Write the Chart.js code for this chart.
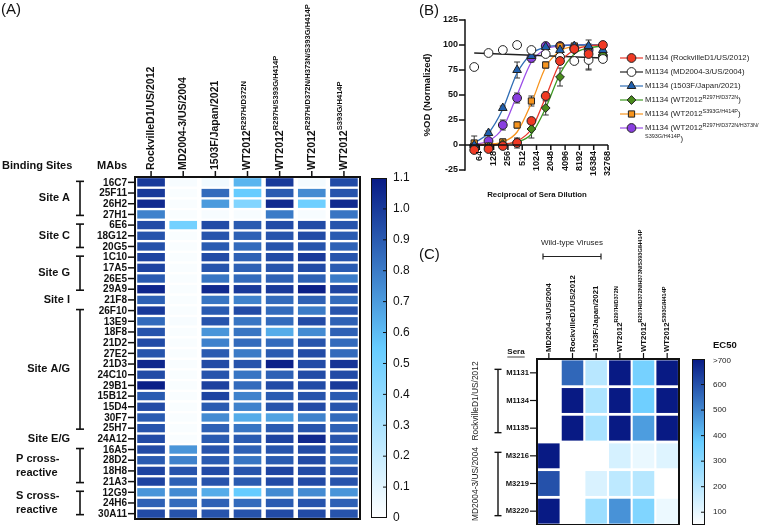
<!DOCTYPE html>
<html>
<head>
<meta charset="utf-8">
<script src="https://cdn.jsdelivr.net/npm/chart.js@4.4.0/dist/chart.umd.min.js"></script>
<style>
  html, body { margin: 0; padding: 0; background: #fff; }
  #wrap { position: relative; width: 760px; height: 525px; overflow: hidden; }
  #wrap canvas { position: absolute; left: 0; top: 0; }
</style>
</head>
<body>
<div id="wrap">
  <canvas id="chartA" width="760" height="525"></canvas>
  <canvas id="chartB" width="760" height="525"></canvas>
  <canvas id="chartC" width="760" height="525"></canvas>
</div>
<script>
// ---------- panel A data ----------
const strainsA = ['RockvilleD1/US/2012', 'MD2004-3/US/2004', '1503F/Japan/2021', 'WT2012^R297H/D372N',
  'WT2012^R297H/S393G/H414P', 'WT2012^R297H/D372N/H373N/S393G/H414P', 'WT2012^S393G/H414P'];
const mabs = ['16C7', '25F11', '26H2', '27H1', '6E6', '18G12', '20G5', '1C10', '17A5', '26E5', '29A9', '21F8',
  '26F10', '13E9', '18F8', '21D2', '27E2', '21D3', '24C10', '29B1', '15B12', '15D4', '30F7', '25H7', '24A12',
  '16A5', '28D2', '18H8', '21A3', '12G9', '24H6', '30A11'];
const bindingValues = [
  [1.00, 0.03, 0.05, 0.62, 1.00, 0.04, 0.95],
  [1.00, 0.02, 0.85, 0.55, 0.90, 0.75, 0.92],
  [1.05, 0.02, 0.70, 0.45, 1.05, 0.52, 1.05],
  [0.78, 0.02, 0.03, 0.03, 0.80, 0.03, 0.82],
  [0.95, 0.50, 0.95, 0.90, 0.95, 0.95, 0.92],
  [0.92, 0.02, 0.92, 0.88, 0.92, 0.95, 0.90],
  [0.93, 0.02, 0.90, 0.85, 0.92, 0.92, 0.88],
  [0.97, 0.02, 0.95, 0.88, 0.95, 1.00, 0.92],
  [0.97, 0.02, 0.92, 0.88, 0.92, 0.95, 0.90],
  [0.90, 0.02, 0.82, 0.85, 0.88, 0.88, 0.80],
  [1.06, 0.02, 1.05, 1.00, 1.00, 1.08, 0.97],
  [0.88, 0.02, 0.82, 0.78, 0.85, 0.88, 0.85],
  [1.00, 0.02, 0.90, 0.95, 0.85, 0.80, 0.92],
  [0.85, 0.03, 0.92, 0.82, 0.85, 0.95, 0.88],
  [0.92, 0.02, 0.72, 0.82, 0.65, 0.75, 0.88],
  [0.95, 0.02, 0.78, 0.85, 0.85, 0.92, 0.85],
  [0.92, 0.02, 0.90, 0.80, 0.90, 0.95, 0.85],
  [1.06, 0.02, 0.95, 0.92, 1.08, 0.95, 1.02],
  [0.95, 0.02, 0.92, 0.82, 0.88, 0.95, 0.95],
  [1.08, 0.02, 0.98, 0.85, 0.95, 0.95, 1.00],
  [0.90, 0.02, 0.97, 0.78, 0.90, 0.92, 0.90],
  [0.95, 0.02, 0.90, 0.78, 0.92, 0.95, 0.92],
  [0.90, 0.02, 0.75, 0.65, 0.68, 0.78, 0.85],
  [0.92, 0.02, 0.88, 0.82, 0.90, 0.92, 0.88],
  [0.95, 0.02, 0.90, 0.90, 0.97, 1.05, 0.92],
  [0.95, 0.72, 0.92, 0.88, 0.92, 0.95, 0.90],
  [0.90, 0.78, 0.90, 0.82, 0.90, 0.95, 0.85],
  [0.97, 0.92, 0.95, 0.92, 0.97, 0.95, 0.92],
  [0.97, 0.88, 0.92, 0.90, 0.95, 0.95, 0.92],
  [0.72, 0.75, 0.65, 0.55, 0.75, 0.75, 0.72],
  [0.88, 0.85, 0.88, 0.85, 0.90, 0.92, 0.88],
  [0.95, 0.92, 0.92, 0.92, 0.95, 0.95, 0.92]
];
const siteGroups = [
  { label: ['Site A'], from: 0, to: 3, bar: true },
  { label: ['Site C'], from: 4, to: 6, bar: true },
  { label: ['Site G'], from: 7, to: 10, bar: true },
  { label: ['Site I'], from: 11, to: 11, bar: false },
  { label: ['Site A/G'], from: 12, to: 23, bar: true },
  { label: ['Site E/G'], from: 24, to: 24, bar: false },
  { label: ['P cross-', 'reactive'], from: 25, to: 28, bar: true },
  { label: ['S cross-', 'reactive'], from: 29, to: 31, bar: true }
];
const scaleTicksA = [0, 0.1, 0.2, 0.3, 0.4, 0.5, 0.6, 0.7, 0.8, 0.9, 1.0, 1.1];

// ---------- panel B data ----------
const dilutions = [50, 100, 200, 400, 800, 1600, 3200, 6400, 12800, 25600];
const xTicksB = [64, 128, 256, 512, 1024, 2048, 4096, 8192, 16384, 32768];
const yTicksB = [-25, 0, 25, 50, 75, 100, 125];
const legendB = [
  ['M1134 (RockvilleD1/US/2012)'],
  ['M1134 (MD2004-3/US/2004)'],
  ['M1134 (1503F/Japan/2021)'],
  ['M1134 (WT2012^R297H/D372N^)'],
  ['M1134 (WT2012^S393G/H414P^)'],
  ['M1134 (WT2012^R297H/D372N/H373N/^', '^S393G/H414P^)']
];
const odRockville = [-5, -4, -1, 2, 24, 49, 84, 96, 91, 100];
const odMD2004 = [78, 92, 95, 100, 95, 91, 88, 84, 85, 86];
const odJapan = [0, 12, 37, 75, 89, 98, 95, 99, 99, 95];
const odWtA = [-1, -2, 1, 3, 16, 37, 68, 95, 97, 90];
const odWtS = [2, -1, 3, 20, 44, 80, 99, 99, 86, null];
const odWtQ = [-1, 4, 20, 47, 87, 99, 99, 97, 95, 89];
const errRockville = [2, 2, 2, 5, 3, 4, 3, 2, 4, 1];
const errMD2004 = [0, 0, 0, 0, 0, 0, 3, 0, 10, 0];
const errJapan = [0, 2, 2, 8, 3, 2, 3, 2, 6, 3];
const errWtA = [0, 0, 2, 3, 9, 7, 9, 2, 4, 2];
const errWtS = [7, 2, 3, 3, 5, 3, 2, 2, 10, 0];
const errWtQ = [0, 2, 5, 5, 4, 2, 2, 3, 3, 3];
// fitted curves at each dilution
const fitRockville = [0, 0, 1, 4, 16, 48, 82, 95, 99, 100];
const fitMD2004 = [92, 87];
const fitJapan = [2, 12, 36, 72, 91, 98, 99.5, 100, 100, 100];
const fitWtA = [0, 0, 1, 3, 11, 37, 71, 91, 97, 99];
const fitWtS = [0, 1, 3, 13, 42, 78, 94, 98.5, 99.5, 100];
const fitWtQ = [0.5, 4, 17, 50, 83, 96, 99, 100, 100, 100];

// ---------- panel C data ----------
const strainsC = ['MD2004-3/US/2004', 'RockvilleD1/US/2012', '1503F/Japan/2021', 'WT2012^R297H/D372N',
  'WT2012^R297H/D372N/H373N/S393G/H414P', 'WT2012^S393G/H414P'];
const sera = ['M1131', 'M1134', 'M1135', 'M3216', 'M3219', 'M3220'];
const ec50Values = [
  [50, 560, 200, 700, 340, 700],
  [50, 700, 225, 700, 355, 700],
  [50, 700, 235, 700, 460, 700],
  [700, 50, 50, 140, 95, 120],
  [600, 50, 130, 190, 205, 50],
  [700, 50, 260, 480, 320, 90]
];
const seraGroups = [
  { label: 'RockvilleD1/US/2012', from: 0, to: 2 },
  { label: 'MD2004-3/US/2004', from: 3, to: 5 }
];
const ec50Ticks = [100, 200, 300, 400, 500, 600, 700];

// ---------- helpers ----------
const FAM = '"Liberation Sans", Arial, Helvetica, sans-serif';
const font = (w, s) => `${w} ${s}px ${FAM}`;
const INK = '#111';

const stops = [[0, [255, 255, 255]], [0.5, [102, 204, 255]], [1, [8, 26, 132]]];
function heatColor(t) {
  t = Math.max(0, Math.min(1, t));
  let i = t <= 0.5 ? 0 : 1;
  const a = stops[i], b = stops[i + 1];
  const f = (t - a[0]) / (b[0] - a[0]);
  const c = a[1].map((v, k) => Math.round(v + (b[1][k] - v) * f));
  return `rgb(${c[0]},${c[1]},${c[2]})`;
}

// text with ^superscript^ parts
function richWidth(ctx, text, size, sup, weight) {
  let w = 0;
  text.split('^').forEach((p, i) => {
    ctx.font = font(weight, i % 2 ? sup : size);
    w += ctx.measureText(p).width;
  });
  return w;
}
function drawRich(ctx, text, x, y, size, sup, weight, align) {
  const w = richWidth(ctx, text, size, sup, weight);
  let cx = align === 'right' ? x - w : align === 'center' ? x - w / 2 : x;
  ctx.textBaseline = 'middle';
  ctx.textAlign = 'left';
  text.split('^').forEach((p, i) => {
    ctx.font = font(weight, i % 2 ? sup : size);
    ctx.fillText(p, cx, i % 2 ? y - size * 0.38 : y);
    cx += ctx.measureText(p).width;
  });
}
function line(ctx, x1, y1, x2, y2, w) {
  ctx.lineWidth = w;
  ctx.beginPath(); ctx.moveTo(x1, y1); ctx.lineTo(x2, y2); ctx.stroke();
}
function colorBar(ctx, x, y, w, h) {
  const g = ctx.createLinearGradient(0, y + h, 0, y);
  stops.forEach(s => g.addColorStop(s[0], heatColor(s[0])));
  ctx.fillStyle = g;
  ctx.fillRect(x, y, w, h);
  ctx.strokeStyle = INK;
  ctx.lineWidth = 1;
  ctx.strokeRect(x + 0.5, y + 0.5, w - 1, h - 1);
}

const base = {
  responsive: false,
  animation: false,
  devicePixelRatio: 1,
  events: [],
  plugins: { legend: { display: false }, tooltip: { enabled: false } }
};

// ---------- panel A ----------
const panelA = {
  id: 'panelA',
  afterDraw(chart) {
    const { ctx, chartArea: a, scales: { x, y } } = chart;
    ctx.save();
    ctx.fillStyle = INK; ctx.strokeStyle = INK;
    ctx.lineWidth = 2;
    ctx.strokeRect(a.left, a.top, a.right - a.left, a.bottom - a.top);

    strainsA.forEach((s, i) => {
      const cx = x.getPixelForValue(i);
      line(ctx, cx, a.top - 6, cx, a.top, 1.5);
      ctx.save();
      ctx.translate(cx, a.top - 7);
      ctx.rotate(-Math.PI / 2);
      ctx.fillStyle = INK;
      drawRich(ctx, s, 0, 0, 10.5, 7.6, 'bold', 'left');
      ctx.restore();
    });
    mabs.forEach((m, r) => {
      const cy = y.getPixelForValue(r);
      line(ctx, a.left - 7, cy, a.left, cy, 1.5);
      ctx.font = font('bold', 10);
      ctx.textAlign = 'right'; ctx.textBaseline = 'middle';
      ctx.fillText(m, a.left - 8, cy + 0.5);
    });
    ctx.font = font('bold', 11);
    ctx.textAlign = 'left'; ctx.textBaseline = 'middle';
    ctx.fillText('Binding Sites', 2, 166);
    ctx.textAlign = 'right';
    ctx.fillText('MAbs', 127, 166);

    siteGroups.forEach(g => {
      const y1 = y.getPixelForValue(g.from), y2 = y.getPixelForValue(g.to);
      if (g.bar) {
        line(ctx, 80, y1 - 1, 80, y2 + 1, 1.6);
        line(ctx, 76, y1 - 1, 84, y1 - 1, 1.6);
        line(ctx, 76, y2 + 1, 84, y2 + 1, 1.6);
      }
      const mid = (y1 + y2) / 2;
      ctx.font = font('bold', 11);
      ctx.textBaseline = 'middle';
      const two = g.label.length > 1;
      ctx.textAlign = two ? 'left' : 'right';
      g.label.forEach((t, k) => {
        const ty = mid + (k - (g.label.length - 1) / 2) * 14;
        ctx.fillText(t, two ? 16 : 70, ty);
      });
    });

    // colour bar
    const bx = 371, by = a.top + 1, bw = 16, bh = a.bottom - a.top - 2;
    colorBar(ctx, bx, by, bw, bh);
    ctx.fillStyle = INK; ctx.strokeStyle = INK;
    scaleTicksA.forEach(v => {
      const ty = by + bh - v / 1.1 * bh;
      if (v > 0 && v < 1.1) line(ctx, bx + bw - 4, ty, bx + bw, ty, 1);
      ctx.font = font('normal', 12);
      ctx.textAlign = 'left'; ctx.textBaseline = 'middle';
      ctx.fillText(v === 0 ? '0' : v.toFixed(1), 393, ty);
    });

    ctx.font = font('normal', 15);
    ctx.textAlign = 'left'; ctx.textBaseline = 'middle';
    ctx.fillText('(A)', 1, 10);
    ctx.restore();
  }
};

new Chart(document.getElementById('chartA'), {
  type: 'bar',
  data: {
    labels: strainsA,
    datasets: mabs.map((m, r) => ({
      label: m,
      data: strainsA.map(() => [r - 0.39, r + 0.39]),
      backgroundColor: bindingValues[r].map(v => heatColor(v / 1.1)),
      grouped: false,
      categoryPercentage: 1,
      barPercentage: 0.86,
      borderWidth: 0,
      borderSkipped: false
    }))
  },
  options: {
    ...base,
    layout: { padding: { left: 135, top: 177, right: 400, bottom: 6 } },
    scales: {
      x: { type: 'category', display: false, offset: true },
      y: { type: 'linear', display: false, min: -0.5, max: 31.5, reverse: true }
    }
  },
  plugins: [panelA]
});

// ---------- panel B ----------
const seriesB = [
  { od: odRockville, err: errRockville, fit: fitRockville, color: '#e8372a', fill: '#f03a24', style: 'circle', r: 4.4 },
  { od: odMD2004, err: errMD2004, fit: fitMD2004, color: '#222222', fill: '#ffffff', style: 'circle', r: 4.4 },
  { od: odJapan, err: errJapan, fit: fitJapan, color: '#2f6db5', fill: '#1f5fae', style: 'triangle', r: 5 },
  { od: odWtA, err: errWtA, fit: fitWtA, color: '#3f9a22', fill: '#4a8c1c', style: 'rectRot', r: 4.4 },
  { od: odWtS, err: errWtS, fit: fitWtS, color: '#f7941d', fill: '#f7941d', style: 'rect', r: 4.4 },
  { od: odWtQ, err: errWtQ, fit: fitWtQ, color: '#9b4de8', fill: '#8a3ee0', style: 'circle', r: 4.4 }
];
const fitX = f => f.length === 2 ? [dilutions[0], dilutions[dilutions.length - 1]] : dilutions;

function drawMarker(ctx, s, px, py) {
  ctx.save();
  ctx.fillStyle = s.fill;
  ctx.strokeStyle = '#222';
  ctx.lineWidth = 1;
  Chart.helpers.drawPoint(ctx, { pointStyle: s.style, radius: s.r, borderWidth: 1 }, px, py);
  ctx.restore();
}

const panelB = {
  id: 'panelB',
  beforeDatasetsDraw(chart) {
    const { ctx, scales: { x, y } } = chart;
    ctx.save();
    ctx.strokeStyle = '#333';
    seriesB.forEach(s => {
      s.od.forEach((v, i) => {
        if (v == null || !s.err[i]) return;
        const px = x.getPixelForValue(dilutions[i]);
        const y1 = y.getPixelForValue(v - s.err[i]), y2 = y.getPixelForValue(v + s.err[i]);
        line(ctx, px, y1, px, y2, 1);
        line(ctx, px - 3, y1, px + 3, y1, 1);
        line(ctx, px - 3, y2, px + 3, y2, 1);
      });
    });
    ctx.restore();
  },
  afterDraw(chart) {
    const { ctx, chartArea: a, scales: { x, y } } = chart;
    ctx.save();
    ctx.fillStyle = INK; ctx.strokeStyle = INK;
    const yTop = y.getPixelForValue(125), yBot = y.getPixelForValue(-25), y0 = y.getPixelForValue(0);
    line(ctx, a.left, yTop - 0.75, a.left, yBot + 0.75, 1.5);
    yTicksB.forEach(v => {
      const ty = y.getPixelForValue(v);
      line(ctx, a.left - 6, ty, a.left, ty, 1.5);
      ctx.font = font('bold', 9);
      ctx.textAlign = 'right'; ctx.textBaseline = 'middle';
      ctx.fillText(String(v), a.left - 7, ty);
    });
    line(ctx, a.left, y0, a.right, y0, 1.5);
    xTicksB.forEach(v => {
      const tx = x.getPixelForValue(v);
      line(ctx, tx, y0, tx, y0 + 5, 1.5);
      ctx.save();
      ctx.translate(tx, y0 + 6);
      ctx.rotate(-Math.PI / 2);
      ctx.font = font('bold', 9);
      ctx.textAlign = 'right'; ctx.textBaseline = 'middle';
      ctx.fillText(String(v), 0, 0);
      ctx.restore();
    });
    ctx.save();
    ctx.translate(427, 95);
    ctx.rotate(-Math.PI / 2);
    ctx.font = font('bold', 9.5);
    ctx.textAlign = 'center'; ctx.textBaseline = 'middle';
    ctx.fillText('%OD (Normalized)', 0, 0);
    ctx.restore();
    ctx.font = font('bold', 7.8);
    ctx.textAlign = 'center'; ctx.textBaseline = 'middle';
    ctx.fillText('Reciprocal of Sera Dilution', 537, 195);

    // legend
    legendB.forEach((lines, i) => {
      const s = seriesB[i];
      const ly = 58 + i * 14;
      ctx.strokeStyle = s.color;
      line(ctx, 620, ly, 643, ly, 1.2);
      drawMarker(ctx, s, 631.5, ly);
      ctx.fillStyle = '#222';
      lines.forEach((t, k) => drawRich(ctx, t, 645, ly + k * 11, 7.8, 5.5, 'normal', 'left'));
    });

    ctx.fillStyle = INK;
    ctx.font = font('normal', 15);
    ctx.textAlign = 'left'; ctx.textBaseline = 'middle';
    ctx.fillText('(B)', 419, 11);
    ctx.restore();
  }
};

const dsB = [];
seriesB.forEach(s => {
  dsB.push({
    data: dilutions.map((d, i) => ({ x: d, y: s.od[i] })),
    showLine: false,
    pointStyle: s.style,
    pointRadius: s.r,
    pointBackgroundColor: s.fill,
    pointBorderColor: '#222',
    pointBorderWidth: 1,
    order: 1
  });
});
seriesB.forEach(s => {
  const xs = fitX(s.fit);
  dsB.push({
    data: xs.map((d, i) => ({ x: d, y: s.fit[i] })),
    borderColor: s.color,
    borderWidth: 1.3,
    pointRadius: 0,
    cubicInterpolationMode: 'monotone',
    fill: false,
    order: 2
  });
});

new Chart(document.getElementById('chartB'), {
  type: 'line',
  data: { datasets: dsB },
  options: {
    ...base,
    layout: { padding: { left: 465, top: 20, right: 152, bottom: 355 } },
    scales: {
      x: { type: 'logarithmic', display: false, min: 32, max: 32768 },
      y: { type: 'linear', display: false, min: -25, max: 125 }
    }
  },
  plugins: [panelB]
});

// ---------- panel C ----------
const ecMin = 50, ecMax = 700;
const panelC = {
  id: 'panelC',
  afterDraw(chart) {
    const { ctx, chartArea: a, scales: { x, y } } = chart;
    ctx.save();
    ctx.fillStyle = INK; ctx.strokeStyle = INK;
    ctx.lineWidth = 2;
    ctx.strokeRect(a.left, a.top, a.right - a.left, a.bottom - a.top);

    strainsC.forEach((s, i) => {
      const cx = x.getPixelForValue(i);
      line(ctx, cx, a.top - 6, cx, a.top, 1.2);
      ctx.save();
      ctx.translate(cx, a.top - 7);
      ctx.rotate(-Math.PI / 2);
      ctx.fillStyle = INK;
      drawRich(ctx, s, 0, 0, 7.8, 5.6, 'bold', 'left');
      ctx.restore();
    });
    sera.forEach((m, r) => {
      const cy = y.getPixelForValue(r);
      line(ctx, a.left - 7, cy, a.left, cy, 1.2);
      ctx.font = font('bold', 7.6);
      ctx.textAlign = 'right'; ctx.textBaseline = 'middle';
      ctx.fillText(m, a.left - 8, cy);
    });
    ctx.font = font('bold', 8);
    ctx.textAlign = 'center'; ctx.textBaseline = 'middle';
    ctx.fillText('Sera', 516, 352);
    const sw = ctx.measureText('Sera').width;
    line(ctx, 516 - sw / 2, 357, 516 + sw / 2, 357, 0.8);

    seraGroups.forEach(g => {
      const y1 = y.getPixelForValue(g.from) - 3.5, y2 = y.getPixelForValue(g.to) + 4.5;
      line(ctx, 498, y1, 498, y2, 1.4);
      line(ctx, 494.5, y1, 501.5, y1, 1.4);
      line(ctx, 494.5, y2, 501.5, y2, 1.4);
      ctx.save();
      ctx.translate(476, (y1 + y2) / 2);
      ctx.rotate(-Math.PI / 2);
      ctx.font = font('normal', 8.4);
      ctx.textAlign = 'center'; ctx.textBaseline = 'middle';
      ctx.fillStyle = '#222';
      ctx.fillText(g.label, 0, 0);
      ctx.restore();
    });

    // wild-type bracket
    ctx.font = font('normal', 8);
    ctx.fillStyle = '#222';
    ctx.textAlign = 'center'; ctx.textBaseline = 'middle';
    ctx.fillText('Wild-type Viruses', 572, 243);
    ctx.strokeStyle = '#222';
    line(ctx, 543, 256.5, 601, 256.5, 1.2);
    line(ctx, 543, 253.5, 543, 259.5, 1.2);
    line(ctx, 601, 253.5, 601, 259.5, 1.2);

    // colour bar
    const bx = 692, by = a.top, bw = 13, bh = a.bottom - a.top;
    colorBar(ctx, bx, by, bw, bh);
    ctx.fillStyle = '#222'; ctx.strokeStyle = INK;
    ec50Ticks.forEach(v => {
      const ty = by + bh - (v - ecMin) / (ecMax - ecMin) * bh;
      if (v < ecMax) line(ctx, bx + bw - 4, ty, bx + bw, ty, 1);
      ctx.font = font('normal', 8);
      ctx.textAlign = 'left'; ctx.textBaseline = 'middle';
      ctx.fillText(v === ecMax ? '>' + v : String(v), 713, v === ecMax ? ty + 2 : ty);
    });
    ctx.fillStyle = INK;
    ctx.font = font('bold', 9.5);
    ctx.fillText('EC50', 713, 345);

    ctx.font = font('normal', 15);
    ctx.textAlign = 'left'; ctx.textBaseline = 'middle';
    ctx.fillText('(C)', 419, 255);
    ctx.restore();
  }
};

new Chart(document.getElementById('chartC'), {
  type: 'bar',
  data: {
    labels: strainsC,
    datasets: sera.map((m, r) => ({
      label: m,
      data: strainsC.map(() => [r - 0.45, r + 0.45]),
      backgroundColor: ec50Values[r].map(v => heatColor((v - ecMin) / (ecMax - ecMin))),
      grouped: false,
      categoryPercentage: 1,
      barPercentage: 0.91,
      borderWidth: 0,
      borderSkipped: false
    }))
  },
  options: {
    ...base,
    layout: { padding: { left: 537, top: 359, right: 81, bottom: 0 } },
    scales: {
      x: { type: 'category', display: false, offset: true },
      y: { type: 'linear', display: false, min: -0.5, max: 5.5, reverse: true }
    }
  },
  plugins: [panelC]
});
</script>
</body>
</html>
